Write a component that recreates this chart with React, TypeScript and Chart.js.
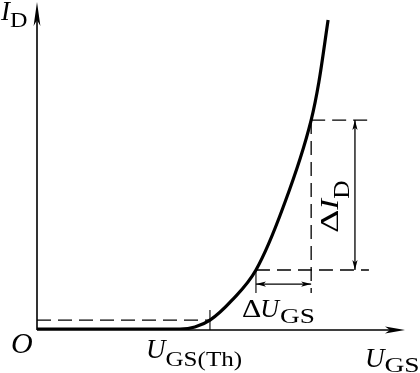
import React, { useEffect, useRef } from "react";
import { Chart, registerables } from "chart.js";

Chart.register(...registerables);

// Transfer characteristic I_D(U_GS) in arbitrary units (x: 0..10, y: 0..10)
const curveX = [0, 3.89, 4.29, 4.7, 5.3, 5.95, 6.68, 7.45, 7.66, 7.91];
const curveY = [0.03, 0.03, 0.09, 0.3, 0.91, 1.83, 3.72, 6.4, 7.56, 9.45];

const axisMax = [10, 10];
const threshold = [4.7, 0.3]; // U_GS(Th) marker point
const thresholdTickTop = 0.61;
const pointA = [5.95, 1.83];
const pointB = [7.45, 6.4];
const dashEndX = 9.02;
const deltaUBottom = 1.13;
const deltaUArrowY = 1.4;
const deltaIArrowX = 8.64;

const SERIF = '"Liberation Serif", "DejaVu Serif", "Times New Roman", serif';

const seg = (x1: number, y1: number, x2: number, y2: number) => [
  { x: x1, y: y1 },
  { x: x2, y: y2 },
];

function arrowHead(
  ctx: CanvasRenderingContext2D,
  tx: number,
  ty: number,
  angle: number,
  len: number,
  half: number
) {
  ctx.save();
  ctx.translate(tx, ty);
  ctx.rotate(angle);
  ctx.beginPath();
  ctx.moveTo(0, 0);
  ctx.lineTo(-len, -half);
  ctx.lineTo(-len * 0.75, 0);
  ctx.lineTo(-len, half);
  ctx.closePath();
  ctx.fill();
  ctx.restore();
}

function doubleArrow(
  ctx: CanvasRenderingContext2D,
  x1: number,
  y1: number,
  x2: number,
  y2: number
) {
  const ang = Math.atan2(y2 - y1, x2 - x1);
  ctx.beginPath();
  ctx.moveTo(x1, y1);
  ctx.lineTo(x2, y2);
  ctx.stroke();
  arrowHead(ctx, x2, y2, ang, 10, 2.6);
  arrowHead(ctx, x1, y1, ang + Math.PI, 10, 2.6);
}

// draws text with optional horizontal stretch, returns advance width
function text(
  ctx: CanvasRenderingContext2D,
  s: string,
  x: number,
  y: number,
  font: string,
  sx = 1
) {
  ctx.save();
  ctx.font = font;
  ctx.translate(x, y);
  ctx.scale(sx, 1);
  ctx.fillText(s, 0, 0);
  const w = ctx.measureText(s).width * sx;
  ctx.restore();
  return w;
}

const annotationPlugin = {
  id: "annotations",
  afterDatasetsDraw(chart: any) {
    const { ctx, chartArea: a, scales } = chart;
    const xs = scales.x;
    const ys = scales.y;
    const px = (v: number) => xs.getPixelForValue(v);
    const py = (v: number) => ys.getPixelForValue(v);
    ctx.save();
    ctx.strokeStyle = "#000";
    ctx.fillStyle = "#000";
    ctx.setLineDash([]);

    // axes
    ctx.lineWidth = 1.6;
    ctx.beginPath();
    ctx.moveTo(a.left, a.bottom);
    ctx.lineTo(a.right - 12, a.bottom);
    ctx.moveTo(a.left, a.bottom);
    ctx.lineTo(a.left, a.top + 12);
    ctx.stroke();
    arrowHead(ctx, a.right, a.bottom, 0, 20, 3.4);
    arrowHead(ctx, a.left, a.top, -Math.PI / 2, 24, 3.4);

    // dimension arrows
    ctx.lineWidth = 1.3;
    doubleArrow(ctx, px(pointA[0]), py(deltaUArrowY), px(pointB[0]), py(deltaUArrowY));
    doubleArrow(ctx, px(deltaIArrowX), py(pointA[1]), px(deltaIArrowX), py(pointB[1]));

    // labels
    ctx.textBaseline = "alphabetic";
    ctx.textAlign = "left";
    const it = (n: number) => `italic ${n}px ${SERIF}`;
    const up = (n: number) => `${n}px ${SERIF}`;
    // I_D
    text(ctx, "I", 1, 20, it(27));
    text(ctx, "D", 10, 27, up(22), 1.1);
    // O
    text(ctx, "O", 11, 353, it(30));
    // U_GS(Th)
    let w = text(ctx, "U", 146, 358, it(27));
    text(ctx, "GS(Th)", 146 + w, 366, up(22), 1.14);
    // U_GS
    w = text(ctx, "U", 365, 367, it(27));
    text(ctx, "GS", 365 + w, 372, up(22), 1.25);
    // ΔU_GS
    let x0 = 242;
    x0 += text(ctx, "\u0394", x0, 317, up(26), 1.15);
    x0 += text(ctx, "U", x0 - 1, 317, it(26));
    text(ctx, "GS", x0, 323, up(21), 1.3);
    // ΔI_D rotated
    ctx.save();
    ctx.translate(338, 233);
    ctx.rotate(-Math.PI / 2);
    let r = 0;
    r += text(ctx, "\u0394", r, 0, up(25), 1.45);
    r += text(ctx, "I", r, 0, it(25), 1.3);
    text(ctx, "D", r, 11, up(23), 1.1);
    ctx.restore();

    ctx.restore();
  },
};

export default function App() {
  const ref = useRef<HTMLCanvasElement | null>(null);

  useEffect(() => {
    if (!ref.current) return;
    const dashed = [14, 7];
    const thin = 1.3;
    const mk = (data: any[], dash: number[] | undefined, width: number) => ({
      data,
      borderColor: "#000",
      backgroundColor: "#000",
      borderWidth: width,
      borderDash: dash || [],
      pointRadius: 0,
      fill: false,
      tension: 0,
    });
    const chart = new Chart(ref.current, {
      type: "line",
      data: {
        datasets: [
          {
            ...mk(curveX.map((x, i) => ({ x, y: curveY[i] })), undefined, 3.2),
            cubicInterpolationMode: "monotone",
          } as any,
          mk(seg(0, threshold[1], threshold[0], threshold[1]), dashed, thin),
          mk(seg(threshold[0], 0, threshold[0], thresholdTickTop), undefined, 1.1),
          mk(seg(pointA[0], pointA[1], dashEndX, pointA[1]), dashed, thin),
          mk(seg(pointB[0], pointB[1], dashEndX, pointB[1]), dashed, thin),
          mk(seg(pointB[0], pointB[1], pointB[0], deltaUBottom), dashed, thin),
          mk(seg(pointA[0], pointA[1], pointA[0], deltaUBottom), undefined, 1.1),
        ],
      },
      options: {
        animation: false,
        responsive: false,
        devicePixelRatio: 1,
        layout: { padding: { left: 37, right: 15, top: 2, bottom: 43 } },
        plugins: { legend: { display: false }, tooltip: { enabled: false } },
        events: [],
        scales: {
          x: { type: "linear", min: 0, max: axisMax[0], display: false },
          y: { type: "linear", min: 0, max: axisMax[1], display: false },
        },
      },
      plugins: [annotationPlugin],
    });
    return () => chart.destroy();
  }, []);

  return (
    <div
      style={{
        position: "fixed",
        left: 0,
        top: 0,
        width: 420,
        height: 373,
        background: "#fff",
      }}
    >
      <canvas ref={ref} width={420} height={373} style={{ display: "block" }} />
    </div>
  );
}
